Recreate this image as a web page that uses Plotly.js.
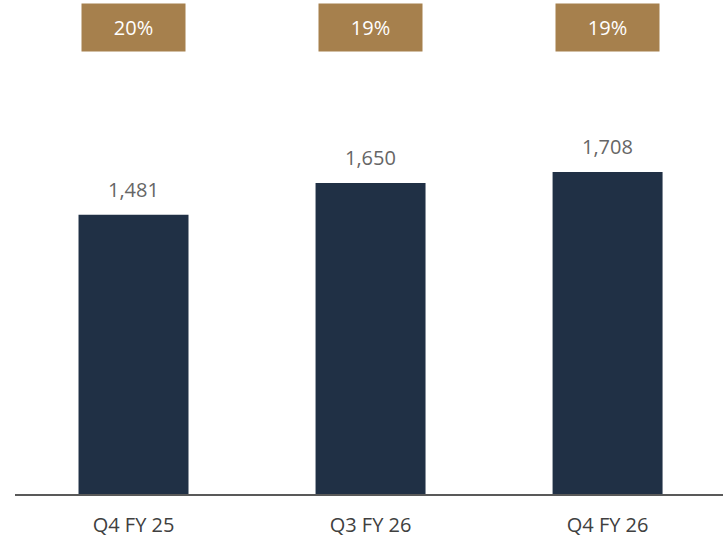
<!DOCTYPE html>
<html><head><meta charset="utf-8">
<script src="https://cdn.plot.ly/plotly-3.0.1.min.js"></script>
<style>html,body{margin:0;padding:0;background:#fff}</style>
</head><body><div id="chart" style="width:723px;height:539px"></div>
<script>
const categories = ["Q4 FY 25", "Q3 FY 26", "Q4 FY 26"];
const values = [1481, 1650, 1708];
const valueLabels = ["1,481", "1,650", "1,708"];
const marginLabels = ["20%", "19%", "19%"];

const FONT = "Open Sans, Noto Sans, sans-serif";
const trace = {
  type: "bar", x: categories, y: values,
  marker: {color: "#203045"}, width: 0.464,
  hoverinfo: "none"
};
const boxAnn = categories.map((c, i) => ({
  x: c, xref: "x", y: 1, yref: "paper", yanchor: "top", yshift: -3,
  text: marginLabels[i], showarrow: false, borderpad: 0,
  bgcolor: "#A6804D", width: 103, height: 47,
  font: {family: FONT, size: 20, color: "#ffffff"}
}));
const valAnn = categories.map((c, i) => ({
  x: c, xref: "x", y: values[i], yref: "y", yanchor: "bottom", yshift: 10,
  text: valueLabels[i], showarrow: false,
  font: {family: FONT, size: 20, color: "#666666"}
}));
Plotly.newPlot("chart", [trace], {
  width: 723, height: 539,
  margin: {l: 15, r: 0, t: 0, b: 45},
  paper_bgcolor: "#fff", plot_bgcolor: "#fff",
  showlegend: false,
  xaxis: {type: "category", range: [-0.5, 2.487], showline: true, linecolor: "#595959", linewidth: 1.5,
          ticks: "", showgrid: false, zeroline: false, ticklabelstandoff: 12,
          tickfont: {family: FONT, size: 20, color: "#404040"}},
  yaxis: {range: [0, 2621], visible: false, showgrid: false, zeroline: false},
  annotations: boxAnn.concat(valAnn)
}, {displayModeBar: false, staticPlot: true});
</script></body></html>
